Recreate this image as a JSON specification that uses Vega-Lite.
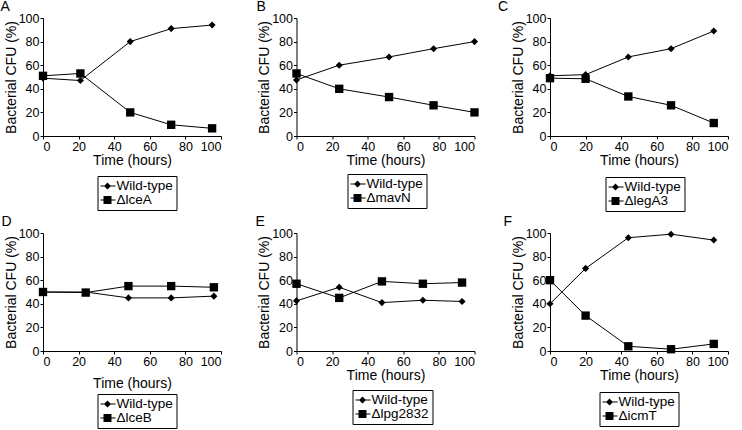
{
  "$schema": "https://vega.github.io/schema/vega-lite/v6.json",
  "padding": 0,
  "autosize": {"type": "pad"},
  "data": {"values": [
    {"panel": "A", "strain": "Wild-type", "time": 0, "cfu": 49},
    {"panel": "A", "strain": "Wild-type", "time": 21, "cfu": 47},
    {"panel": "A", "strain": "Wild-type", "time": 49, "cfu": 80},
    {"panel": "A", "strain": "Wild-type", "time": 72, "cfu": 91},
    {"panel": "A", "strain": "Wild-type", "time": 95, "cfu": 94},
    {"panel": "A", "strain": "ΔlceA", "time": 0, "cfu": 51},
    {"panel": "A", "strain": "ΔlceA", "time": 21, "cfu": 53},
    {"panel": "A", "strain": "ΔlceA", "time": 49, "cfu": 20},
    {"panel": "A", "strain": "ΔlceA", "time": 72, "cfu": 9.5},
    {"panel": "A", "strain": "ΔlceA", "time": 95, "cfu": 6.5},
    {"panel": "B", "strain": "Wild-type", "time": 0, "cfu": 47.5},
    {"panel": "B", "strain": "Wild-type", "time": 24, "cfu": 60},
    {"panel": "B", "strain": "Wild-type", "time": 52, "cfu": 67},
    {"panel": "B", "strain": "Wild-type", "time": 77, "cfu": 74},
    {"panel": "B", "strain": "Wild-type", "time": 100, "cfu": 80},
    {"panel": "B", "strain": "ΔmavN", "time": 0, "cfu": 53},
    {"panel": "B", "strain": "ΔmavN", "time": 24, "cfu": 40},
    {"panel": "B", "strain": "ΔmavN", "time": 52, "cfu": 33},
    {"panel": "B", "strain": "ΔmavN", "time": 77, "cfu": 26},
    {"panel": "B", "strain": "ΔmavN", "time": 100, "cfu": 20},
    {"panel": "C", "strain": "Wild-type", "time": 0, "cfu": 51},
    {"panel": "C", "strain": "Wild-type", "time": 20, "cfu": 52},
    {"panel": "C", "strain": "Wild-type", "time": 44, "cfu": 67},
    {"panel": "C", "strain": "Wild-type", "time": 68, "cfu": 74},
    {"panel": "C", "strain": "Wild-type", "time": 92, "cfu": 89},
    {"panel": "C", "strain": "ΔlegA3", "time": 0, "cfu": 49},
    {"panel": "C", "strain": "ΔlegA3", "time": 20, "cfu": 48.5},
    {"panel": "C", "strain": "ΔlegA3", "time": 44, "cfu": 33.5},
    {"panel": "C", "strain": "ΔlegA3", "time": 68, "cfu": 26},
    {"panel": "C", "strain": "ΔlegA3", "time": 92, "cfu": 11},
    {"panel": "D", "strain": "Wild-type", "time": 0, "cfu": 50},
    {"panel": "D", "strain": "Wild-type", "time": 24, "cfu": 50},
    {"panel": "D", "strain": "Wild-type", "time": 48, "cfu": 45},
    {"panel": "D", "strain": "Wild-type", "time": 72, "cfu": 45},
    {"panel": "D", "strain": "Wild-type", "time": 96, "cfu": 46.5},
    {"panel": "D", "strain": "ΔlceB", "time": 0, "cfu": 50},
    {"panel": "D", "strain": "ΔlceB", "time": 24, "cfu": 49.5},
    {"panel": "D", "strain": "ΔlceB", "time": 48, "cfu": 55},
    {"panel": "D", "strain": "ΔlceB", "time": 72, "cfu": 55},
    {"panel": "D", "strain": "ΔlceB", "time": 96, "cfu": 54},
    {"panel": "E", "strain": "Wild-type", "time": 0, "cfu": 42.5},
    {"panel": "E", "strain": "Wild-type", "time": 24, "cfu": 54},
    {"panel": "E", "strain": "Wild-type", "time": 48, "cfu": 41},
    {"panel": "E", "strain": "Wild-type", "time": 71, "cfu": 43},
    {"panel": "E", "strain": "Wild-type", "time": 93, "cfu": 42},
    {"panel": "E", "strain": "Δlpg2832", "time": 0, "cfu": 57},
    {"panel": "E", "strain": "Δlpg2832", "time": 24, "cfu": 45},
    {"panel": "E", "strain": "Δlpg2832", "time": 48, "cfu": 59},
    {"panel": "E", "strain": "Δlpg2832", "time": 71, "cfu": 57},
    {"panel": "E", "strain": "Δlpg2832", "time": 93, "cfu": 58},
    {"panel": "F", "strain": "Wild-type", "time": 0, "cfu": 40},
    {"panel": "F", "strain": "Wild-type", "time": 20, "cfu": 70},
    {"panel": "F", "strain": "Wild-type", "time": 44, "cfu": 96},
    {"panel": "F", "strain": "Wild-type", "time": 68, "cfu": 99},
    {"panel": "F", "strain": "Wild-type", "time": 92, "cfu": 94},
    {"panel": "F", "strain": "ΔicmT", "time": 0, "cfu": 60},
    {"panel": "F", "strain": "ΔicmT", "time": 20, "cfu": 30},
    {"panel": "F", "strain": "ΔicmT", "time": 44, "cfu": 4},
    {"panel": "F", "strain": "ΔicmT", "time": 68, "cfu": 1.5},
    {"panel": "F", "strain": "ΔicmT", "time": 92, "cfu": 6}
  ]},
  "columns": 3,
  "spacing": {"row": 97, "column": 75.5},
  "bounds": "flush",
  "resolve": {"scale": {"shape": "independent", "x": "independent", "y": "independent"}, "legend": {"shape": "independent"}},
  "concat": [
    {
      "width": 178, "height": 118,
      "title": {"text": "A", "dx": -42.5},
      "transform": [{"filter": "datum.panel === 'A'"}],
      "encoding": {
        "x": {"field": "time", "type": "quantitative", "scale": {"domain": [0, 100], "nice": false}, "axis": {"values": [0, 20, 40, 60, 80, 100], "title": "Time (hours)"}},
        "y": {"field": "cfu", "type": "quantitative", "scale": {"domain": [0, 100], "nice": false}, "axis": {"values": [0, 20, 40, 60, 80, 100], "title": "Bacterial CFU (%)"}}
      },
      "layer": [
        {"mark": {"type": "line", "color": "black", "strokeWidth": 1}, "encoding": {"detail": {"field": "strain"}}},
        {"transform": [{"filter": "datum.strain === 'Wild-type'"}], "mark": {"type": "point", "shape": "diamond", "filled": true, "color": "black", "opacity": 1, "size": 50}, "encoding": {}},
        {"transform": [{"filter": "datum.strain !== 'Wild-type'"}], "mark": {"type": "point", "shape": "square", "filled": true, "color": "black", "opacity": 1, "size": 70}, "encoding": {}},
        {"mark": {"type": "point", "filled": true, "color": "black", "opacity": 0},
         "encoding": {
           "shape": {"field": "strain", "type": "nominal",
             "scale": {"domain": ["Wild-type", "ΔlceA"], "range": ["M-1.15,-0.075H1.15V0.075H-1.15ZM0,-0.5L0.5,0L0,0.5L-0.5,0Z", "M-1.15,-0.075H1.15V0.075H-1.15ZM-0.57,-0.57H0.57V0.57H-0.57Z"]},
             "legend": {"orient": "none", "legendX": 54.5, "legendY": 158,
               "encode": {"labels": {"fontStyle": {"value": {"expr": "datum.value === 'Wild-type' ? 'normal' : 'italic'"}}}}}}
         }}
      ]
    },
    {
      "width": 178, "height": 118,
      "title": {"text": "B", "dx": -40},
      "transform": [{"filter": "datum.panel === 'B'"}],
      "encoding": {
        "x": {"field": "time", "type": "quantitative", "scale": {"domain": [0, 100], "nice": false}, "axis": {"values": [0, 20, 40, 60, 80, 100], "title": "Time (hours)"}},
        "y": {"field": "cfu", "type": "quantitative", "scale": {"domain": [0, 100], "nice": false}, "axis": {"values": [0, 20, 40, 60, 80, 100], "title": "Bacterial CFU (%)"}}
      },
      "layer": [
        {"mark": {"type": "line", "color": "black", "strokeWidth": 1}, "encoding": {"detail": {"field": "strain"}}},
        {"transform": [{"filter": "datum.strain === 'Wild-type'"}], "mark": {"type": "point", "shape": "diamond", "filled": true, "color": "black", "opacity": 1, "size": 50}, "encoding": {}},
        {"transform": [{"filter": "datum.strain !== 'Wild-type'"}], "mark": {"type": "point", "shape": "square", "filled": true, "color": "black", "opacity": 1, "size": 70}, "encoding": {}},
        {"mark": {"type": "point", "filled": true, "color": "black", "opacity": 0},
         "encoding": {
           "shape": {"field": "strain", "type": "nominal",
             "scale": {"domain": ["Wild-type", "ΔmavN"], "range": ["M-1.15,-0.075H1.15V0.075H-1.15ZM0,-0.5L0.5,0L0,0.5L-0.5,0Z", "M-1.15,-0.075H1.15V0.075H-1.15ZM-0.57,-0.57H0.57V0.57H-0.57Z"]},
             "legend": {"orient": "none", "legendX": 51, "legendY": 156,
               "encode": {"labels": {"fontStyle": {"value": {"expr": "datum.value === 'Wild-type' ? 'normal' : 'italic'"}}}}}}
         }}
      ]
    },
    {
      "width": 178, "height": 118,
      "title": {"text": "C", "dx": -52},
      "transform": [{"filter": "datum.panel === 'C'"}],
      "encoding": {
        "x": {"field": "time", "type": "quantitative", "scale": {"domain": [0, 100], "nice": false}, "axis": {"values": [0, 20, 40, 60, 80, 100], "title": "Time (hours)"}},
        "y": {"field": "cfu", "type": "quantitative", "scale": {"domain": [0, 100], "nice": false}, "axis": {"values": [0, 20, 40, 60, 80, 100], "title": "Bacterial CFU (%)"}}
      },
      "layer": [
        {"mark": {"type": "line", "color": "black", "strokeWidth": 1}, "encoding": {"detail": {"field": "strain"}}},
        {"transform": [{"filter": "datum.strain === 'Wild-type'"}], "mark": {"type": "point", "shape": "diamond", "filled": true, "color": "black", "opacity": 1, "size": 50}, "encoding": {}},
        {"transform": [{"filter": "datum.strain !== 'Wild-type'"}], "mark": {"type": "point", "shape": "square", "filled": true, "color": "black", "opacity": 1, "size": 70}, "encoding": {}},
        {"mark": {"type": "point", "filled": true, "color": "black", "opacity": 0},
         "encoding": {
           "shape": {"field": "strain", "type": "nominal",
             "scale": {"domain": ["Wild-type", "ΔlegA3"], "range": ["M-1.15,-0.075H1.15V0.075H-1.15ZM0,-0.5L0.5,0L0,0.5L-0.5,0Z", "M-1.15,-0.075H1.15V0.075H-1.15ZM-0.57,-0.57H0.57V0.57H-0.57Z"]},
             "legend": {"orient": "none", "legendX": 55.5, "legendY": 159,
               "encode": {"labels": {"fontStyle": {"value": {"expr": "datum.value === 'Wild-type' ? 'normal' : 'italic'"}}}}}}
         }}
      ]
    },
    {
      "width": 178, "height": 118,
      "title": {"text": "D", "dx": -41.5},
      "transform": [{"filter": "datum.panel === 'D'"}],
      "encoding": {
        "x": {"field": "time", "type": "quantitative", "scale": {"domain": [0, 100], "nice": false}, "axis": {"values": [0, 20, 40, 60, 80, 100], "title": "Time (hours)", "titlePadding": 9}},
        "y": {"field": "cfu", "type": "quantitative", "scale": {"domain": [0, 100], "nice": false}, "axis": {"values": [0, 20, 40, 60, 80, 100], "title": "Bacterial CFU (%)"}}
      },
      "layer": [
        {"mark": {"type": "line", "color": "black", "strokeWidth": 1}, "encoding": {"detail": {"field": "strain"}}},
        {"transform": [{"filter": "datum.strain === 'Wild-type'"}], "mark": {"type": "point", "shape": "diamond", "filled": true, "color": "black", "opacity": 1, "size": 50}, "encoding": {}},
        {"transform": [{"filter": "datum.strain !== 'Wild-type'"}], "mark": {"type": "point", "shape": "square", "filled": true, "color": "black", "opacity": 1, "size": 70}, "encoding": {}},
        {"mark": {"type": "point", "filled": true, "color": "black", "opacity": 0},
         "encoding": {
           "shape": {"field": "strain", "type": "nominal",
             "scale": {"domain": ["Wild-type", "ΔlceB"], "range": ["M-1.15,-0.075H1.15V0.075H-1.15ZM0,-0.5L0.5,0L0,0.5L-0.5,0Z", "M-1.15,-0.075H1.15V0.075H-1.15ZM-0.57,-0.57H0.57V0.57H-0.57Z"]},
             "legend": {"orient": "none", "legendX": 54.5, "legendY": 161,
               "encode": {"labels": {"fontStyle": {"value": {"expr": "datum.value === 'Wild-type' ? 'normal' : 'italic'"}}}}}}
         }}
      ]
    },
    {
      "width": 178, "height": 118,
      "title": {"text": "E", "dx": -41},
      "transform": [{"filter": "datum.panel === 'E'"}],
      "encoding": {
        "x": {"field": "time", "type": "quantitative", "scale": {"domain": [0, 100], "nice": false}, "axis": {"values": [0, 20, 40, 60, 80, 100], "title": "Time (hours)"}},
        "y": {"field": "cfu", "type": "quantitative", "scale": {"domain": [0, 100], "nice": false}, "axis": {"values": [0, 20, 40, 60, 80, 100], "title": "Bacterial CFU (%)"}}
      },
      "layer": [
        {"mark": {"type": "line", "color": "black", "strokeWidth": 1}, "encoding": {"detail": {"field": "strain"}}},
        {"transform": [{"filter": "datum.strain === 'Wild-type'"}], "mark": {"type": "point", "shape": "diamond", "filled": true, "color": "black", "opacity": 1, "size": 50}, "encoding": {}},
        {"transform": [{"filter": "datum.strain !== 'Wild-type'"}], "mark": {"type": "point", "shape": "square", "filled": true, "color": "black", "opacity": 1, "size": 70}, "encoding": {}},
        {"mark": {"type": "point", "filled": true, "color": "black", "opacity": 0},
         "encoding": {
           "shape": {"field": "strain", "type": "nominal",
             "scale": {"domain": ["Wild-type", "Δlpg2832"], "range": ["M-1.15,-0.075H1.15V0.075H-1.15ZM0,-0.5L0.5,0L0,0.5L-0.5,0Z", "M-1.15,-0.075H1.15V0.075H-1.15ZM-0.57,-0.57H0.57V0.57H-0.57Z"]},
             "legend": {"orient": "none", "legendX": 56, "legendY": 157}}
         }}
      ]
    },
    {
      "width": 178, "height": 118,
      "title": {"text": "F", "dx": -46.5},
      "transform": [{"filter": "datum.panel === 'F'"}],
      "encoding": {
        "x": {"field": "time", "type": "quantitative", "scale": {"domain": [0, 100], "nice": false}, "axis": {"values": [0, 20, 40, 60, 80, 100], "title": "Time (hours)"}},
        "y": {"field": "cfu", "type": "quantitative", "scale": {"domain": [0, 100], "nice": false}, "axis": {"values": [0, 20, 40, 60, 80, 100], "title": "Bacterial CFU (%)"}}
      },
      "layer": [
        {"mark": {"type": "line", "color": "black", "strokeWidth": 1}, "encoding": {"detail": {"field": "strain"}}},
        {"transform": [{"filter": "datum.strain === 'Wild-type'"}], "mark": {"type": "point", "shape": "diamond", "filled": true, "color": "black", "opacity": 1, "size": 50}, "encoding": {}},
        {"transform": [{"filter": "datum.strain !== 'Wild-type'"}], "mark": {"type": "point", "shape": "square", "filled": true, "color": "black", "opacity": 1, "size": 70}, "encoding": {}},
        {"mark": {"type": "point", "filled": true, "color": "black", "opacity": 0},
         "encoding": {
           "shape": {"field": "strain", "type": "nominal",
             "scale": {"domain": ["Wild-type", "ΔicmT"], "range": ["M-1.15,-0.075H1.15V0.075H-1.15ZM0,-0.5L0.5,0L0,0.5L-0.5,0Z", "M-1.15,-0.075H1.15V0.075H-1.15ZM-0.57,-0.57H0.57V0.57H-0.57Z"]},
             "legend": {"orient": "none", "legendX": 49.5, "legendY": 159,
               "encode": {"labels": {"fontStyle": {"value": {"expr": "datum.value === 'Wild-type' ? 'normal' : 'italic'"}}}}}}
         }}
      ]
    }
  ],
  "config": {
    "font": "Liberation Sans",
    "view": {"stroke": null},
    "axis": {"grid": false, "domainColor": "black", "tickColor": "black", "labelColor": "black", "titleColor": "black",
      "labelFontSize": 12.5, "titleFontSize": 14, "titleFontWeight": "normal", "tickSize": 3, "labelPadding": 1, "titlePadding": 1,
      "labelFont": "Liberation Sans", "titleFont": "Liberation Sans"},
    "axisY": {"titlePadding": 0},
    "legend": {
      "title": null, "direction": "vertical", "strokeColor": "black", "padding": 3, "symbolSize": 196, "labelOffset": 2,
      "rowPadding": 0, "clipHeight": 14, "labelFontSize": 13.5, "labelColor": "black", "labelFont": "Liberation Sans", "symbolOpacity": 1,
      "symbolFillColor": "black", "symbolStrokeColor": "black", "symbolStrokeWidth": 0
    },
    "title": {"anchor": "start", "frame": "group", "fontSize": 14, "fontWeight": "normal", "font": "Liberation Sans", "offset": -2, "color": "black"}
  }
}
